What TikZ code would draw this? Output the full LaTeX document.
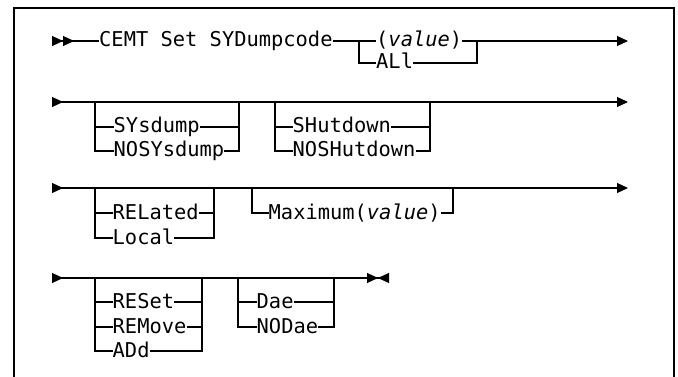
\documentclass[tikz,border=0pt]{standalone}
\usepackage{fontspec}
\newfontfamily\railfont{DejaVu Sans Mono}
\usetikzlibrary{arrows.meta}

\begin{document}
\begin{tikzpicture}[x=1pt, y=-1pt, font=\railfont\fontsize{20.4}{24}\selectfont,
  rail/.style={line width=1.1pt},
  kw/.style={anchor=west, inner sep=0pt, text height=12pt, text depth=0pt},
  boxline/.style={line width=1.6pt},
  railtip/.tip={Triangle[length=11pt,width=10pt]},
  railback/.tip={Triangle[reversed,length=11pt,width=10pt]}]
\useasboundingbox (0,0) rectangle (678,377);
\draw[boxline] (14,377) -- (14,8) -- (674,8) -- (674,377);

\coordinate (s1) at (52,41);
\coordinate (e1) at (628,41);
\coordinate (j1a) at (359,41);
\coordinate (j1b) at (477,41);
\node[kw] (cemt) at (99,41) {CEMT Set SYDumpcode};
\node[kw] (val) at (376,41) {(\textit{value})};
\node[kw] (all) at (376,63) {ALl};
\draw[rail, {railback[]railback[]}-] (s1) -- (cemt.west);
\draw[rail] (cemt.east) -- (val.west);
\draw[rail, -{railtip[]}] (val.east) -- (e1);
\draw[rail] (j1a) |- (all.west);
\draw[rail] (all.east) -| (j1b);

\coordinate (s2) at (52,102);
\coordinate (e2) at (628,102);
\coordinate (j2a) at (95,102);
\coordinate (j2b) at (239,102);
\coordinate (j2c) at (275,102);
\coordinate (j2d) at (430,102);
\node[kw] (sys) at (113.5,127) {SYsdump};
\node[kw] (nosys) at (113.5,151) {NOSYsdump};
\node[kw] (shut) at (292.5,127) {SHutdown};
\node[kw] (noshut) at (292.5,151) {NOSHutdown};
\draw[rail, {railback[]}-{railtip[]}] (s2) -- (e2);
\draw[rail] (j2a) |- (nosys.west);
\draw[rail] (sys.west -| j2a) -- (sys.west);
\draw[rail] (nosys.east) -| (j2b);
\draw[rail] (sys.east) -- (sys.east -| j2b);
\draw[rail] (j2c) |- (noshut.west);
\draw[rail] (shut.west -| j2c) -- (shut.west);
\draw[rail] (noshut.east) -| (j2d);
\draw[rail] (shut.east) -- (shut.east -| j2d);

\coordinate (s3) at (52,188);
\coordinate (e3) at (628,188);
\coordinate (j3a) at (95,188);
\coordinate (j3b) at (214,188);
\coordinate (j3c) at (252,188);
\coordinate (j3d) at (453,188);
\node[kw] (rel) at (112.5,213) {RELated};
\node[kw] (loc) at (112.5,238) {Local};
\node[kw] (max) at (268.5,213) {Maximum(\textit{value})};
\draw[rail, {railback[]}-{railtip[]}] (s3) -- (e3);
\draw[rail] (j3a) |- (loc.west);
\draw[rail] (rel.west -| j3a) -- (rel.west);
\draw[rail] (loc.east) -| (j3b);
\draw[rail] (rel.east) -- (rel.east -| j3b);
\draw[rail] (j3c) |- (max.west);
\draw[rail] (max.east) -| (j3d);

\coordinate (s4) at (52,278);
\coordinate (e4) at (389,278);
\coordinate (j4a) at (95,278);
\coordinate (j4b) at (202,278);
\coordinate (j4c) at (238,278);
\coordinate (j4d) at (334,278);
\node[kw] (reset) at (112.5,302) {RESet};
\node[kw] (remove) at (112.5,327) {REMove};
\node[kw] (add) at (112.5,351) {ADd};
\node[kw] (dae) at (256.5,302) {Dae};
\node[kw] (nodae) at (256.5,327) {NODae};
\draw[rail, {railback[]}-{railtip[]railback[]}] (s4) -- (e4);
\draw[rail] (j4a) |- (add.west);
\draw[rail] (reset.west -| j4a) -- (reset.west);
\draw[rail] (remove.west -| j4a) -- (remove.west);
\draw[rail] (add.east) -| (j4b);
\draw[rail] (reset.east) -- (reset.east -| j4b);
\draw[rail] (remove.east) -- (remove.east -| j4b);
\draw[rail] (j4c) |- (nodae.west);
\draw[rail] (dae.west -| j4c) -- (dae.west);
\draw[rail] (nodae.east) -| (j4d);
\draw[rail] (dae.east) -- (dae.east -| j4d);
\end{tikzpicture}
\end{document}
